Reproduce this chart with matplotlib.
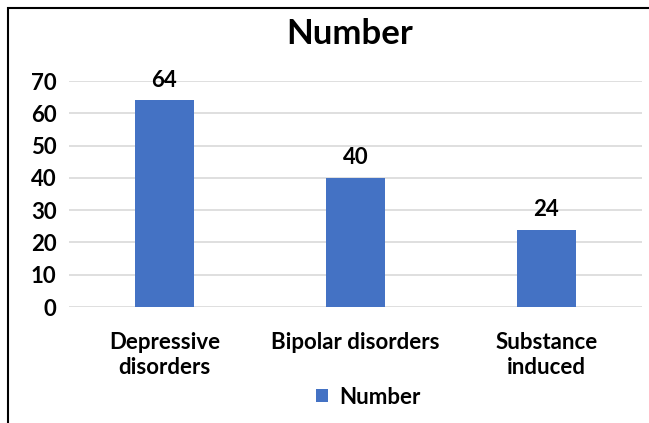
import matplotlib
matplotlib.use("Agg")
import matplotlib.pyplot as plt
from matplotlib.patches import Rectangle

categories = ["Depressive\ndisorders", "Bipolar disorders", "Substance\ninduced"]
values = [64, 40, 24]
series_name = "Number"
yticks = [0, 10, 20, 30, 40, 50, 60, 70]

plt.rcParams['font.family'] = ['Lato', 'DejaVu Sans']
plt.rcParams['font.weight'] = 'bold'

fig = plt.figure(figsize=(6.49, 4.23), dpi=100)
W, H = 649, 423
ax = fig.add_axes([69 / W, 1 - 307 / H, (642 - 69) / W, (307 - 81) / H])

FS = 16
x = list(range(len(categories)))
bars = ax.bar(x, values, width=0.314, color="#4472C4", label=series_name, zorder=3)
ax.set_xlim(-0.5, len(categories) - 0.5)
ax.set_ylim(0, 70)
ax.set_yticks(yticks)
ax.set_yticklabels([str(t) for t in yticks], fontsize=FS, fontweight='bold')
ax.set_xticks(x)
ax.set_xticklabels(categories, fontsize=FS, fontweight='bold', linespacing=1.25)
ax.tick_params(axis='both', length=0)
ax.tick_params(axis='y', pad=9)
ax.tick_params(axis='x', pad=18)
ax.grid(axis='y', color='#D9D9D9', linewidth=1.2, zorder=0)
for s in ax.spines.values():
    s.set_visible(False)

for xi, v in zip(x, values):
    ax.annotate(str(v), (xi, v), xytext=(0, 7), textcoords='offset points',
                ha='center', va='bottom', fontsize=FS, fontweight='bold')

fig.text(350 / W, 1 - 34 / H, "Number", ha='center', va='center', fontsize=25, fontweight='bold')

leg = fig.legend(handles=[bars], labels=[series_name], loc='center', bbox_to_anchor=(368 / W, 1 - 397 / H),
                 frameon=False, handlelength=0.55, handleheight=0.55, handletextpad=0.5,
                 prop={'weight': 'bold', 'size': FS})

# outer border
fig.add_artist(Rectangle((8 / W, -0.1), 1.2, 1 - 8 / H + 0.1, transform=fig.transFigure,
                         fill=False, edgecolor='black', linewidth=1.5))

fig.savefig("out.png", dpi=100)
